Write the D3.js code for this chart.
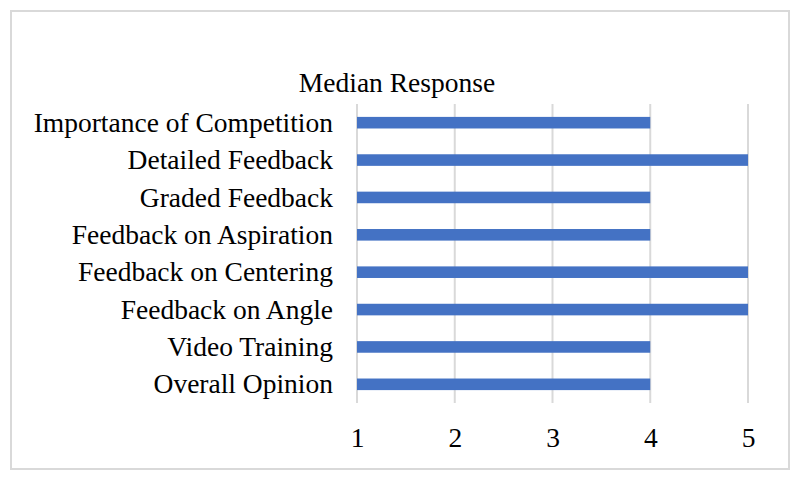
<!DOCTYPE html>
<html>
<head>
<meta charset="utf-8">
<script src="https://cdn.jsdelivr.net/npm/d3@7"></script>
<style>
  body { margin: 0; background: #fff; }
  text { font-family: "Liberation Serif", "Times New Roman", serif; fill: #000; }
</style>
</head>
<body>
<div id="chart"></div>
<script>
// categories top to bottom, as in the chart
var categories = ["Importance of Competition", "Detailed Feedback", "Graded Feedback",
  "Feedback on Aspiration", "Feedback on Centering", "Feedback on Angle",
  "Video Training", "Overall Opinion"];
var medians = [4, 5, 4, 4, 5, 5, 4, 4];
var tickValues = [1, 2, 3, 4, 5];
var chartTitle = "Median Response";

var width = 800, height = 480;
var fontSize = "27.5px";
var svg = d3.select("#chart").append("svg")
  .attr("width", width)
  .attr("height", height);

// outer chart border
svg.append("rect")
  .attr("x", 11).attr("y", 11)
  .attr("width", 778).attr("height", 458)
  .style("fill", "#fff")
  .style("stroke", "#d9d9d9")
  .style("stroke-width", 2);

var x = d3.scaleLinear().domain([1, 5]).range([357, 748]);
var y = d3.scaleBand().domain(categories).range([104, 403]).paddingInner(0.69).paddingOuter(0.345);

// vertical gridlines
svg.append("g").selectAll("line")
  .data(tickValues)
  .enter().append("line")
  .attr("x1", d => x(d)).attr("x2", d => x(d))
  .attr("y1", 104).attr("y2", 403)
  .style("stroke", "#d9d9d9")
  .style("stroke-width", 2);

// bars start at the left end of the axis (value 1)
svg.append("g").selectAll("rect")
  .data(medians)
  .enter().append("rect")
  .attr("x", x(1))
  .attr("y", (d, i) => y(categories[i]))
  .attr("width", d => x(d) - x(1))
  .attr("height", y.bandwidth())
  .style("fill", "#4472c4");

// category labels
var yAxis = d3.axisLeft(y).tickSize(0).tickPadding(24);
var gy = svg.append("g").attr("transform", "translate(357,0)").call(yAxis);
gy.select(".domain").remove();
gy.selectAll("text")
  .style("font-size", fontSize)
  .style("font-family", "Liberation Serif, serif")
  .attr("dy", "0.33em");

// value axis labels
var xAxis = d3.axisBottom(x).tickValues(tickValues).tickSize(0).tickPadding(24).tickFormat(d3.format("d"));
var gx = svg.append("g").attr("transform", "translate(0,403)").call(xAxis);
gx.select(".domain").remove();
gx.selectAll("text")
  .style("font-size", fontSize)
  .style("font-family", "Liberation Serif, serif");

svg.append("text")
  .attr("x", 397).attr("y", 92)
  .attr("text-anchor", "middle")
  .style("font-size", fontSize)
  .text(chartTitle);
</script>
</body>
</html>
